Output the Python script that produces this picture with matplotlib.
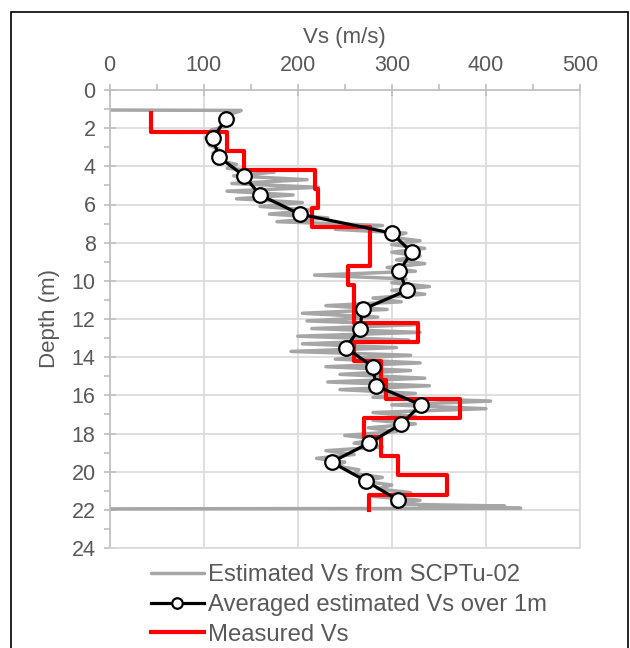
import matplotlib
matplotlib.use("Agg")
import matplotlib.pyplot as plt
from matplotlib.patches import Rectangle
from matplotlib.ticker import MultipleLocator

plt.rcParams['font.family'] = ['Liberation Sans', 'DejaVu Sans']

# Estimated Vs from SCPTu-02 (depth m, Vs m/s), rows aligned between the two lists
gray_depth = (
    [1.05, 1.07, 1.15, 1.3, 1.5, 1.7, 1.9]
    + [2.1, 2.3, 2.5, 2.7, 2.9, 3.1, 3.3, 3.5, 3.7, 3.9]
    + [4.1, 4.3, 4.5, 4.7, 4.9, 5.1, 5.3, 5.5, 5.7, 5.9]
    + [6.1, 6.3, 6.5, 6.7, 6.9, 7.1, 7.3, 7.5, 7.7, 7.9]
    + [8.1, 8.3, 8.5, 8.7, 8.9, 9.1, 9.3, 9.5, 9.7, 9.9]
    + [10.1, 10.3, 10.5, 10.7, 10.9, 11.1, 11.3, 11.5, 11.7, 11.9]
    + [12.1, 12.3, 12.5, 12.7, 12.9, 13.1, 13.3, 13.5, 13.7, 13.9]
    + [14.1, 14.3, 14.5, 14.7, 14.9, 15.1, 15.3, 15.5, 15.7, 15.9]
    + [16.1, 16.3, 16.5, 16.7, 16.9, 17.1, 17.3, 17.5, 17.7, 17.9]
    + [18.1, 18.3, 18.5, 18.7, 18.9, 19.1, 19.3, 19.5, 19.7, 19.9]
    + [20.1, 20.3, 20.5, 20.7, 20.9, 21.1, 21.3, 21.5, 21.7]
    + [21.8, 21.87, 21.92, 21.95]
)
gray_vs = (
    [0, 140, 136, 125, 132, 118, 124]
    + [108, 116, 102, 112, 106, 116, 110, 122, 116, 135]
    + [125, 175, 132, 210, 130, 222, 125, 195, 135, 205]
    + [160, 215, 170, 232, 178, 290, 240, 315, 295, 330]
    + [300, 335, 300, 330, 305, 335, 295, 325, 218, 315]
    + [300, 340, 300, 335, 280, 310, 230, 295, 205, 285]
    + [210, 325, 215, 330, 200, 318, 205, 305, 193, 320]
    + [240, 330, 230, 320, 245, 335, 232, 340, 245, 325]
    + [280, 405, 300, 400, 280, 325, 280, 325, 275, 305]
    + [250, 285, 260, 290, 230, 260, 220, 250, 240, 265]
    + [260, 290, 270, 300, 285, 320, 280, 330, 300]
    + [420, 330, 437, 0]
)

# Averaged estimated Vs over 1 m
avg_depth = [1.5, 2.5, 3.5, 4.5, 5.5, 6.5, 7.5, 8.5, 9.5, 10.5, 11.5, 12.5, 13.5, 14.5, 15.5,
             16.5, 17.5, 18.5, 19.5, 20.5, 21.5]
avg_vs = [124, 110, 116, 143, 160, 202, 300, 321, 308, 316, 269, 266, 251, 280, 283,
          331, 310, 276, 236, 273, 307]

# Measured Vs (layer boundaries and layer velocities)
meas_bounds = [1.2, 2.2, 3.2, 4.2, 5.2, 6.2, 7.2, 9.2, 10.2, 12.2, 13.2, 14.2, 15.2, 16.2,
               17.2, 18.2, 19.2, 20.2, 21.2, 22.0]
meas_vs = [44, 125, 143, 218, 222, 215, 277, 253, 260, 328, 260, 289, 294, 373, 270, 289,
           307, 359, 276]

x_ticks = [0, 100, 200, 300, 400, 500]
y_ticks = [0, 2, 4, 6, 8, 10, 12, 14, 16, 18, 20, 22, 24]

text_c = '#595959'
axis_c = '#BFBFBF'
grid_c = '#D9D9D9'

fig = plt.figure(figsize=(6.30, 6.48), dpi=100)
ax = fig.add_axes([109.5 / 630, 1 - 548 / 648, (580 - 109.5) / 630, (548 - 90) / 648])

# measured step profile
mx, my = [], []
for i, v in enumerate(meas_vs):
    mx += [v, v]
    my += [meas_bounds[i], meas_bounds[i + 1]]

l1, = ax.plot(gray_vs, gray_depth, color='#A6A6A6', lw=2.5, solid_joinstyle='round',
              solid_capstyle='round', label='Estimated Vs from SCPTu-02', zorder=2)
l3, = ax.plot(mx, my, color='#FF0000', lw=3.0, label='Measured Vs', zorder=3)
l2, = ax.plot(avg_vs, avg_depth, color='black', lw=2.3, marker='o', markersize=10.5,
              markerfacecolor='white', markeredgecolor='black', markeredgewidth=1.6,
              label='Averaged estimated Vs over 1m', zorder=4)

ax.set_xlim(0, 500)
ax.set_ylim(24, 0)
ax.set_xticks(x_ticks)
ax.set_yticks(y_ticks)
ax.xaxis.set_minor_locator(MultipleLocator(50))
ax.yaxis.set_minor_locator(MultipleLocator(1))
ax.xaxis.tick_top()
ax.xaxis.set_label_position('top')
ax.grid(True, which='major', color=grid_c, lw=1.2, zorder=0)
ax.set_axisbelow(True)

for s in ['right', 'bottom']:
    ax.spines[s].set_color(grid_c)
    ax.spines[s].set_linewidth(1.2)
for s in ['top', 'left']:
    ax.spines[s].set_color(axis_c)
    ax.spines[s].set_linewidth(1.2)

ax.tick_params(axis='both', which='major', direction='inout', length=8, width=1.2,
               color=axis_c, labelcolor=text_c, labelsize=15.5)
ax.tick_params(axis='x', which='major', pad=6)
ax.tick_params(axis='y', which='major', pad=6)
ax.tick_params(axis='both', which='minor', direction='out', length=4, width=1.2, color=axis_c)

ax.set_xlabel('Vs (m/s)', fontsize=16, color=text_c, labelpad=9)
ax.set_ylabel('Depth (m)', fontsize=16, color=text_c, labelpad=8)

leg = fig.legend(handles=[l1, l2, l3], loc='center left',
                 bbox_to_anchor=(151 / 630, 1 - 605 / 648), frameon=False,
                 fontsize=17.2, handlelength=2.2, handletextpad=0.2, labelspacing=0.32,
                 borderpad=0, borderaxespad=0, markerscale=0.72)
for t in leg.get_texts():
    t.set_color(text_c)

fig.patches.append(Rectangle((11 / 630, -0.02), 617 / 630, 1 - 12 / 648 + 0.02,
                             transform=fig.transFigure, fill=False, edgecolor='black',
                             lw=1.2, zorder=10))

fig.savefig('out.png', dpi=100)
